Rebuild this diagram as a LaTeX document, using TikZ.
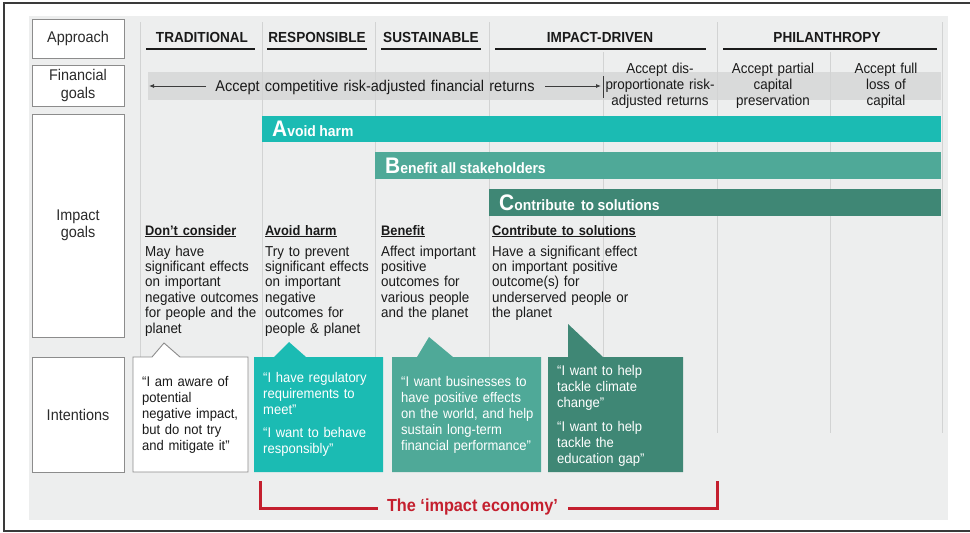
\documentclass[tikz,border=0pt]{standalone}
\usepackage{fontspec}
\setmainfont{Liberation Sans}[FakeStretch=0.93]
\usetikzlibrary{arrows.meta}

\definecolor{panelgray}{HTML}{EDEEEE}
\definecolor{rulegray}{HTML}{D2D3D3}
\definecolor{bandgray}{HTML}{D9DADA}
\definecolor{boxedge}{HTML}{8C8C8C}
\definecolor{framegray}{HTML}{3A3A3A}
\definecolor{inkblack}{HTML}{1A1A1A}
\definecolor{labelink}{HTML}{2B2B2B}
\definecolor{tealA}{HTML}{1BBBB3}
\definecolor{greenB}{HTML}{4FA998}
\definecolor{greenC}{HTML}{3F8775}
\definecolor{econred}{HTML}{C41F2E}

\newcommand{\setfs}[2]{\fontsize{#1}{#2}\selectfont}
% bold heading font for the impact-goal columns
\newcommand{\goalheadfont}{\bfseries\setfs{13.8}{15.4}}
% underlined heading: rule drawn just below the baseline
\newcommand{\headul}[1]{\begingroup\setbox0=\hbox{#1}\rlap{\rule[-2.3pt]{\wd0}{1.1pt}}\box0\endgroup}

\tikzset{
  rowlabel/.style={draw=boxedge, fill=white, line width=0.9pt, minimum width=92pt,
    align=center, inner sep=0pt, text=labelink, font=\setfs{15.5}{17.5}},
  approachhead/.style={font=\bfseries\setfs{14.6}{16}, text=inkblack, inner sep=0pt, anchor=base},
  headrule/.style={draw=inkblack, line width=1.4pt},
  colrule/.style={draw=rulegray, line width=1pt},
  fintext/.style={font=\setfs{14.4}{15.8}, text=inkblack, inner sep=0pt, text width=112pt,
    align=center, anchor=base},
  goalbar/.style={inner xsep=10pt, inner ysep=0pt, anchor=north west, text=white,
    font=\bfseries, align=left},
  goaltext/.style={font=\setfs{14.4}{15.4}, text=inkblack, inner sep=0pt, anchor=base west,
    align=left},
  calloutbody/.style={font=\setfs{14}{16.2}, inner sep=0pt, anchor=base west, align=left},
  finarrow/.style={draw=inkblack!85, line width=0.8pt, -{Latex[length=5pt,width=4pt]}},
  econline/.style={draw=econred, line width=3pt},
}

\begin{document}
\begin{tikzpicture}[x=1pt, y=-1pt]
\useasboundingbox (0,0) rectangle (970,533);

% outer frame and grey panel
\draw[framegray, line width=1.5pt] (985,3) -- (4,3) -- (4,531) -- (985,531);
\fill[panelgray] (29,16) rectangle (948,520);

% financial goals band
\fill[bandgray] (148,72) rectangle (941,100);

% column rules
\foreach \cx in {140,262,375,489,717,942}
  \draw[colrule] (\cx,22) -- (\cx,433);
\foreach \cx in {603,830}
  \draw[colrule] (\cx,52) -- (\cx,433);

% row labels
\node[rowlabel, minimum height=39pt] (lblApproach) at (78,38.5) {Approach};
\node[rowlabel, minimum height=41pt] (lblFinancial) at (78,85.5) {Financial\\goals};
\node[rowlabel, minimum height=223pt] (lblImpact) at (78,225.5) {Impact\\goals};
\node[rowlabel, minimum height=115pt] (lblIntent) at (78,414.5) {Intentions};

% approach headings
\node[approachhead] (hTrad) at (202,42) {TRADITIONAL};
\node[approachhead] (hResp) at (317,42) {RESPONSIBLE};
\node[approachhead] (hSust) at (431,42) {SUSTAINABLE};
\node[approachhead] (hImp) at (600,42) {IMPACT-DRIVEN};
\node[approachhead] (hPhil) at (827,42) {PHILANTHROPY};
\draw[headrule] (146,49) -- (255,49);
\draw[headrule] (267,49) -- (367,49);
\draw[headrule] (381,49) -- (481,49);
\draw[headrule] (495,49) -- (706,49);
\draw[headrule] (723,49) -- (937,49);

% financial goals
\node[fintext, text width=340pt, font=\setfs{15.6}{16}] (finComp) at (375,91)
  {Accept competitive risk-adjusted financial returns};
\coordinate (finLeftTip) at (149,86);
\coordinate (finLeftStart) at (206,86);
\coordinate (finRightStart) at (545,86);
\coordinate (finRightTip) at (601,86);
\draw[finarrow] (finLeftStart) -- (finLeftTip);
\draw[finarrow] (finRightStart) -- (finRightTip);
\draw[draw=framegray, line width=1pt] (603,76) -- (603,98);
\node[fintext] (finDis) at (660,73.5) {Accept dis-\\proportionate risk-\\adjusted returns};
\node[fintext] (finPartial) at (773,73.5) {Accept partial\\capital\\preservation};
\node[fintext] (finFull) at (886,73.5) {Accept full\\loss of\\capital};

% impact goal bars
\node[goalbar, fill=tealA, minimum height=26pt, text width=659pt] (barA) at (262,116)
  {{\setfs{22.5}{22}A}{\setfs{15}{15}void harm}};
\node[goalbar, fill=greenB, minimum height=27pt, text width=546pt] (barB) at (375,152)
  {{\setfs{22.5}{22}B}{\setfs{15}{15}enefit all stakeholders}};
\node[goalbar, fill=greenC, minimum height=27pt, text width=432pt] (barC) at (489,189)
  {{\setfs{22.5}{22}C}{\setfs{15}{15}ontribute\hspace{3pt} to solutions}};

% impact goal descriptions
\node[goaltext, text width=118pt] (gDont) at (145,235)
  {{\goalheadfont\headul{Don’t consider}}\\[5.6pt]
   May have\\ significant effects\\ on important\\ negative outcomes\\ for people and the\\ planet};
\node[goaltext, text width=112pt] (gAvoid) at (265,235)
  {{\goalheadfont\headul{Avoid harm}}\\[5.6pt]
   Try to prevent\\ significant effects\\ on important\\ negative\\ outcomes for\\ people \& planet};
\node[goaltext, text width=108pt] (gBenefit) at (381,235)
  {{\goalheadfont\headul{Benefit}}\\[5.6pt]
   Affect important\\ positive\\ outcomes for\\ various people\\ and the planet};
\node[goaltext, text width=170pt] (gContrib) at (492,235)
  {{\goalheadfont\headul{Contribute to solutions}}\\[5.6pt]
   Have a significant effect\\ on important positive\\ outcome(s) for\\ underserved people or\\ the planet};

% intention callouts
\path[draw=boxedge, fill=white, line width=0.9pt]
  (133,357) -- (152,357) -- (164,343) -- (180,357) -- (248,357) -- (248,472) -- (133,472) -- cycle;
\node[calloutbody, text=inkblack, text width=104pt] (iTrad) at (142,386)
  {“I am aware of\\ potential\\ negative impact,\\ but do not try\\ and mitigate it”};

\fill[tealA]
  (254,357) -- (274,357) -- (289,342) -- (306,357) -- (383,357) -- (383,472) -- (254,472) -- cycle;
\node[calloutbody, text=white, text width=116pt] (iResp) at (263,382)
  {“I have regulatory\\ requirements to\\ meet”\\[6.5pt] “I want to behave\\ responsibly”};

\fill[greenB]
  (392,357) -- (417,357) -- (429,337) -- (453,357) -- (541,357) -- (541,472) -- (392,472) -- cycle;
\node[calloutbody, text=white, text width=138pt] (iSust) at (401,386)
  {“I want businesses to\\ have positive effects\\ on the world, and help\\ sustain long-term\\ financial performance”};

\fill[greenC]
  (548,357) -- (568,357) -- (568,324) -- (603,357) -- (683,357) -- (683,472) -- (548,472) -- cycle;
\node[calloutbody, text=white, text width=122pt] (iImp) at (557,375)
  {“I want to help\\ tackle climate\\ change”\\[7.5pt] “I want to help\\ tackle the\\ education gap”};

% impact economy bracket
\node[font=\bfseries\setfs{17.5}{18}, text=econred, inner sep=0pt] (econ) at (472.5,507) {The ‘impact economy’};
\coordinate (brLeftTop) at (260,481);
\coordinate (brLeftEnd) at (378,508);
\coordinate (brRightStart) at (568,508);
\coordinate (brRightTop) at (717,481);
\draw[econline] (brLeftTop) |- (brLeftEnd);
\draw[econline] (brRightStart) -| (brRightTop);
\end{tikzpicture}
\end{document}
